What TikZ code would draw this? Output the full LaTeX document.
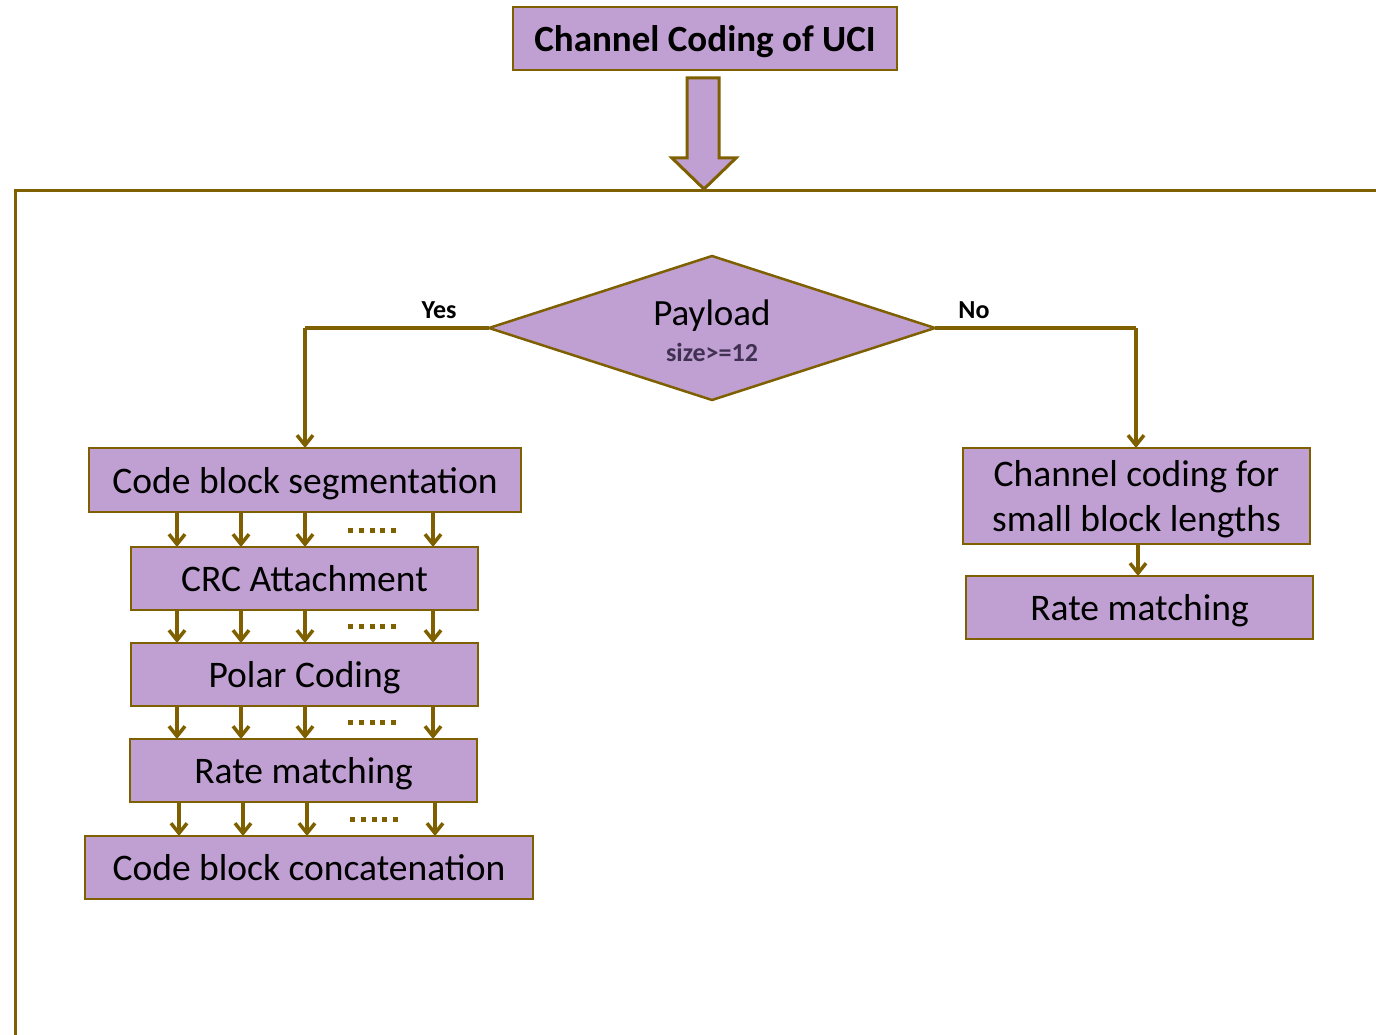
\documentclass[tikz,border=0pt]{standalone}
\usepackage{fontspec}
\setmainfont{Carlito}
\usetikzlibrary{shapes.geometric,arrows.meta}
\definecolor{boxfill}{RGB}{192,160,210}
\definecolor{olive}{RGB}{127,96,0}
\definecolor{darkpurple}{RGB}{64,49,82}
\tikzset{
  every node/.style={inner sep=0pt,outer sep=0pt},
  boxnode/.style={draw=olive,fill=boxfill,line width=2pt,font=\fontsize{37.5}{45}\selectfont,align=center,text depth=0pt},
  dianode/.style={diamond,draw=olive,fill=boxfill,line width=2.5pt,minimum width=446pt,minimum height=144pt},
  arr/.style={draw=olive,line width=3.5pt,-{Straight Barb[length=10pt,width=16pt,line width=3.5pt]}},
  conn/.style={draw=olive,line width=3.2pt},
  dotline/.style={draw=olive,line width=5pt,dash pattern=on 5pt off 5.8pt},
  lab/.style={font=\bfseries\fontsize{26}{30}\selectfont}
}
\begin{document}
\begin{tikzpicture}[x=1pt,y=-1pt]
\useasboundingbox (0,0) rectangle (1376,1035);
% title
\node[boxnode,minimum width=384pt,minimum height=63pt,font=\bfseries\fontsize{37}{44}\selectfont] (title) at (705,38.5) {Channel Coding of UCI};
% big arrow
\draw[draw=olive,fill=boxfill,line width=3pt,line join=miter] (687,78) -- (719,78) -- (719,158) -- (736,158) -- (704,189) -- (672,158) -- (687,158) -- cycle;
% frame
\draw[draw=olive,line width=3.5pt] (1380,190.5) -- (15.5,190.5) -- (15.5,1040);
% decision
\node[dianode] (dec) at (712,328) {};
\node[font=\fontsize{37}{44}\selectfont] (payload) at (712,316) {Payload};
\node[font=\bfseries\fontsize{26}{30}\selectfont,text=darkpurple] (size) at (712,352) {size>=12};
\node[lab] (yes) at (439,310) {Yes};
\node[lab] (no) at (974,310) {No};
% left chain
\node[boxnode,minimum width=432pt,minimum height=64pt] (b1) at (305,480) {Code block segmentation};
\node[boxnode,minimum width=347pt,minimum height=63pt] (b2) at (304.5,578.5) {CRC Attachment};
\node[boxnode,minimum width=347pt,minimum height=63pt] (b3) at (304.5,674.5) {Polar Coding};
\node[boxnode,minimum width=347pt,minimum height=63pt] (b4) at (303.5,770.5) {Rate matching};
\node[boxnode,minimum width=448pt,minimum height=63pt] (b5) at (309,867.5) {Code block concatenation};
% right chain
\node[boxnode,minimum width=347pt,minimum height=96pt] (r1) at (1136.5,496) {Channel coding for\\small block lengths};
\node[boxnode,minimum width=347pt,minimum height=63pt] (r2) at (1139.5,607.5) {Rate matching};
% decision connectors
\draw[conn] (dec.west) -- (305,328) coordinate (yc);
\draw[arr] (yc) -- (b1.north);
\draw[conn] (dec.east) -- (1136,328) coordinate (nc);
\draw[arr] (nc) -- (nc |- r1.north);
\draw[arr] (r1.south -| 1138,0) -- (r2.north -| 1138,0);
% multi arrows
\foreach \x in {177,241,305,433}{
  \draw[arr] (b1.south -| \x,0) -- (b2.north -| \x,0);
  \draw[arr] (b2.south -| \x,0) -- (b3.north -| \x,0);
  \draw[arr] (b3.south -| \x,0) -- (b4.north -| \x,0);
}
\foreach \x in {179,243,307,435}{
  \draw[arr] (b4.south -| \x,0) -- (b5.north -| \x,0);
}
\draw[dotline] (348,530) -- (400,530);
\draw[dotline] (348,626) -- (400,626);
\draw[dotline] (348,722) -- (400,722);
\draw[dotline] (350,819) -- (402,819);
\end{tikzpicture}
\end{document}
